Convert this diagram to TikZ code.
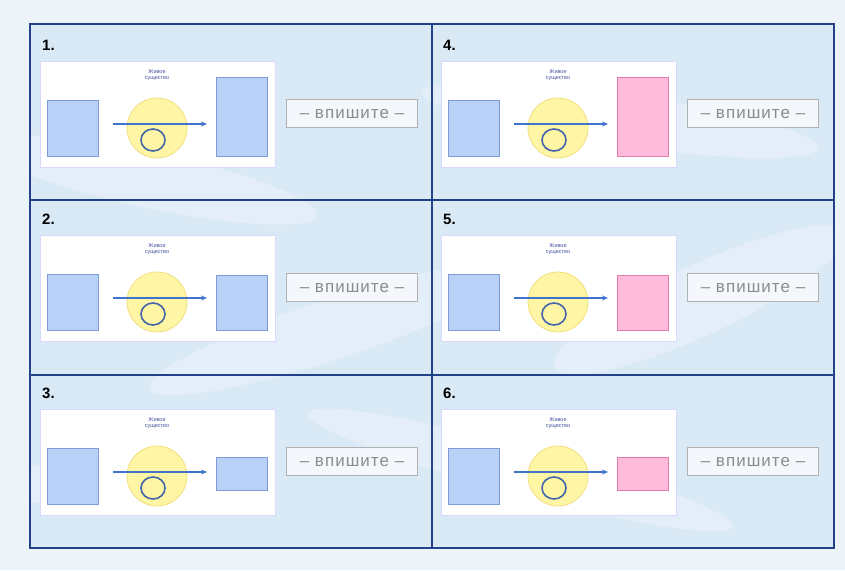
\documentclass[tikz,border=0pt]{standalone}
\usepackage{fontspec}
\setmainfont{Liberation Sans}
\usetikzlibrary{arrows.meta}

\definecolor{bgout}{RGB}{236,244,250}
\definecolor{bgin}{RGB}{218,233,246}
\definecolor{framec}{RGB}{35,65,135}
\definecolor{boxblue}{RGB}{183,210,246}
\definecolor{edgeblue}{RGB}{125,155,215}
\definecolor{boxpink}{RGB}{255,188,218}
\definecolor{edgepink}{RGB}{225,125,175}
\definecolor{sunfill}{RGB}{255,246,165}
\definecolor{sunedge}{RGB}{242,222,125}
\definecolor{arrowc}{RGB}{65,115,205}
\definecolor{loopc}{RGB}{65,100,170}
\definecolor{labelc}{RGB}{70,80,160}

\tikzset{
  panelbox/.style={fill=white, draw=white!85!blue, line width=0.8},
  writebox/.style={draw=black!30, fill=white!70!bgin, line width=1,
    minimum width=131, minimum height=28, inner sep=0,
    text height=10, text depth=0,
    text=black!45, font=\fontsize{17}{17}\selectfont\addfontfeatures{LetterSpace=6}},
  numlabel/.style={anchor=west, inner sep=0, font=\bfseries\fontsize{15}{15}\selectfont},
  beinglabel/.style={align=center, inner sep=0, text=labelc,
    font=\fontsize{5.5}{6.5}\selectfont}
}

\begin{document}
\begin{tikzpicture}[x=1pt,y=-1pt]
        \useasboundingbox (0,0) rectangle (845,570);
        \fill[bgout] (0,0) rectangle (845,570);
        \fill[bgin] (30,24) rectangle (834,548);
        % soft swirls in the background
        \begin{scope}
          \clip (30,24) rectangle (834,548);
          \foreach \cx/\cy/\rx/\ry/\a in {150/180/170/28/-12,330/330/190/30/18,620/120/200/26/-8,700/300/160/35/25,520/470/220/24/-15,120/470/150/22/10} {
              \fill[white, opacity=0.25] (\cx,\cy) ellipse[x radius=\rx, y radius=\ry, rotate=\a];
            }
        \end{scope}
        % the six panels
        \foreach \n/\dx/\dy/\t/\b/\c in {1/0/0/16/95/boxblue,2/0/174/40/95/boxblue,3/0/348/48/81/boxblue,4/401/0/16/95/boxpink,5/401/174/40/95/boxpink,6/401/348/48/81/boxpink} {
            \node[numlabel] (num\n) at (42+\dx,45+\dy) {\n.};
            \fill[panelbox] (40+\dx,61+\dy) rectangle (275+\dx,167+\dy);
            \fill[boxblue, draw=edgeblue, line width=0.8] (47+\dx,100+\dy) rectangle (98+\dx,156+\dy);
            \ifnum\n>3
              \fill[boxpink, draw=edgepink, line width=0.8] (216+\dx,61+\t+\dy) rectangle (267+\dx,61+\b+\dy);
            \else
              \fill[boxblue, draw=edgeblue, line width=0.8] (216+\dx,61+\t+\dy) rectangle (267+\dx,61+\b+\dy);
            \fi
            \fill[sunfill, draw=sunedge, line width=0.8] (157+\dx,128+\dy) circle (30);
            \node[beinglabel] (being\n) at (157+\dx,75+\dy) {Живое\\существо};
            \draw[loopc, line width=1.6] (153+\dx,140+\dy) ellipse[x radius=12, y radius=11];
            \coordinate (from\n) at (113+\dx,124+\dy);
            \coordinate (to\n) at (207+\dx,124+\dy);
            \draw[arrowc, line width=1.8, -{Stealth[length=6pt,width=5pt]}] (from\n) -- (to\n);
            \node[writebox] (write\n) at (352+\dx,113+\dy) {– впишите –};
          }
        % frame and grid lines
        \draw[framec, line width=2] (30,24) rectangle (834,548);
        \draw[framec, line width=2] (432,24) -- (432,548);
        \draw[framec, line width=2] (30,200) -- (834,200);
        \draw[framec, line width=2] (30,375) -- (834,375);
      \end{tikzpicture}
\end{document}
